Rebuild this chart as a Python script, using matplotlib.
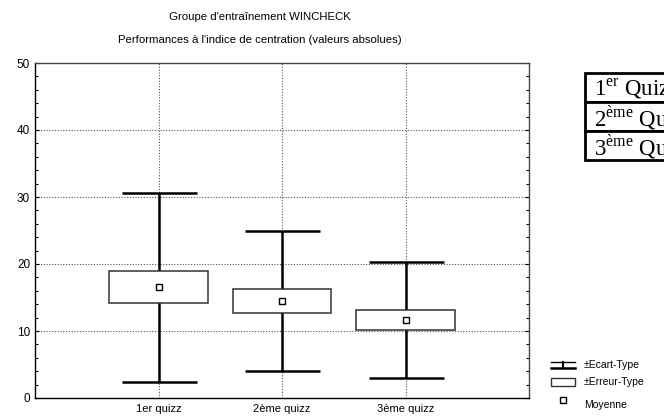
import matplotlib
matplotlib.use("Agg")
import matplotlib.pyplot as plt
from matplotlib.patches import Rectangle
from matplotlib.lines import Line2D
from matplotlib.ticker import MultipleLocator

categories = ['1er quizz', '2ème quizz', '3ème quizz']
means = [16.55, 14.45, 11.65]
sd = [14.1, 10.45, 8.65]
se = [2.35, 1.75, 1.45]
table_rows = [('1', 'er', ' Quizz'), ('2', 'ème', ' Quizz'), ('3', 'ème', ' Quizz')]
legend_labels = ['±Ecart-Type', '±Erreur-Type', 'Moyenne']

plt.rcParams['font.family'] = ['Liberation Sans', 'DejaVu Sans']
plt.rcParams['mathtext.fontset'] = 'custom'
plt.rcParams['mathtext.rm'] = 'Liberation Serif'

W, H = 664, 417
fig = plt.figure(figsize=(W / 100, H / 100), dpi=100)
ax = fig.add_axes([35 / W, (H - 398) / H, 494 / W, 335 / H])

xs = list(range(1, len(categories) + 1))
ax.set_xlim(0, 4)
ax.set_ylim(0, 50)

# grid
for y in [10, 20, 30, 40]:
    ax.axhline(y, color='#555555', lw=0.8, ls=(0, (1, 1.5)), zorder=0)
for x in xs:
    ax.axvline(x, color='#555555', lw=0.8, ls=(0, (1, 1.5)), zorder=0)

# whiskers (SD)
ax.errorbar(xs, means, yerr=sd, fmt='none', ecolor='black', elinewidth=1.8,
            capsize=27, capthick=1.8, zorder=2)
# boxes (SE)
for x, m, s in zip(xs, means, se):
    ax.add_patch(Rectangle((x - 0.4, m - s), 0.8, 2 * s, facecolor='white',
                           edgecolor='#333333', lw=1.1, zorder=3))
# means
ax.plot(xs, means, 's', ms=5, mfc='white', mec='black', mew=1.0, zorder=4, ls='none')

ax.set_xticks(xs)
ax.set_xticklabels(categories, fontsize=8)
ax.set_yticks([0, 10, 20, 30, 40, 50])
ax.tick_params(axis='y', labelsize=8.5, direction='in', length=3, right=True, width=0.8)
ax.tick_params(axis='x', length=0, pad=4)
ax.yaxis.set_minor_locator(MultipleLocator(2))
ax.tick_params(axis='y', which='minor', direction='in', length=2, right=True, width=0.8)
for sp in ax.spines.values():
    sp.set_linewidth(1.0)
ax.spines['top'].set_color('#444444')
ax.spines['right'].set_color('#444444')

# title
fig.text(260 / W, 1 - 17 / H, "Groupe d'entraînement WINCHECK", ha='center', va='center', fontsize=8.2)
fig.text(260 / W, 1 - 40 / H, "Performances à l'indice de centration (valeurs absolues)",
         ha='center', va='center', fontsize=8.2)

# table (top right, clipped by figure edge as in the reference)
tx0, ty0, rowh = 585, 73, 29
for i, (num, sup, rest) in enumerate(table_rows):
    top = ty0 + i * rowh
    fig.patches.append(Rectangle((tx0 / W, 1 - (top + rowh) / H), 120 / W, rowh / H,
                                 transform=fig.transFigure, facecolor='white',
                                 edgecolor='black', lw=2.0))
    fig.text((tx0 + 9) / W, 1 - (top + rowh / 2 + 1) / H,
             r'$\mathrm{%s}^{\mathrm{%s}}$%s' % (num, sup, rest),
             ha='left', va='center', fontsize=16.5, family='Liberation Serif')

# legend
lx, lw_ = 551, 24
cx = lx + lw_ / 2
fig.lines.append(Line2D([lx / W, (lx + lw_) / W], [1 - 362 / H] * 2, transform=fig.transFigure,
                        color='black', lw=1.0))
fig.lines.append(Line2D([lx / W, (lx + lw_) / W], [1 - 368 / H] * 2, transform=fig.transFigure,
                        color='black', lw=1.8))
fig.lines.append(Line2D([cx / W, cx / W], [1 - 362 / H, 1 - 368 / H], transform=fig.transFigure,
                        color='black', lw=1.5))
fig.patches.append(Rectangle((lx / W, 1 - 386 / H), lw_ / W, 8 / H, transform=fig.transFigure,
                             facecolor='white', edgecolor='#333333', lw=1.0))
fig.lines.append(Line2D([cx / W], [1 - 400 / H], transform=fig.transFigure, marker='s', ms=5,
                        mfc='white', mec='black', mew=1.0, ls='none'))
for lab, y in zip(legend_labels, [365, 382, 405]):
    fig.text(584 / W, 1 - y / H, lab, ha='left', va='center', fontsize=7.5)

fig.savefig('out.png', dpi=100)
